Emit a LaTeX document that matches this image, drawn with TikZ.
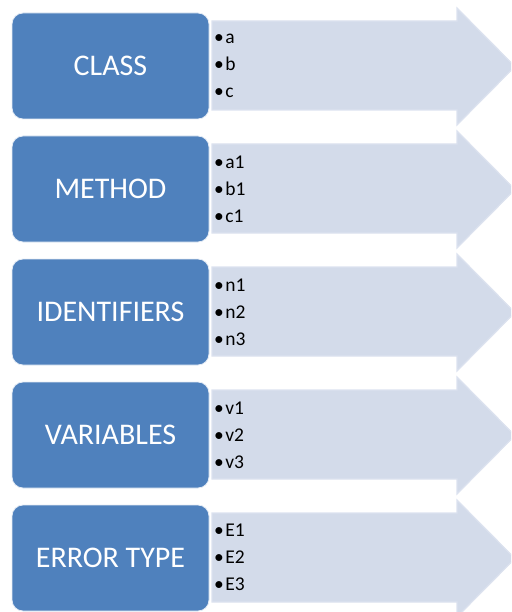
\documentclass[tikz,border=0pt]{standalone}
\usepackage{fontspec}
\setmainfont{Carlito}
\definecolor{boxblue}{HTML}{4F81BD}
\definecolor{arrowfill}{HTML}{D3DBEA}
\definecolor{arrowedge}{HTML}{DCE2EF}
\tikzset{
  catbox/.style={fill=boxblue, draw=white!85!boxblue, line width=0.8pt, rounded corners=11pt,
    minimum width=197pt, minimum height=106pt, inner sep=0pt, text=white,
    font=\fontsize{30}{35}\selectfont},
  itemlist/.style={anchor=west, align=left, inner sep=0pt, text=black,
    font=\fontsize{19.5}{27}\selectfont},
  bigarrow/.style={fill=arrowfill, draw=arrowedge, line width=1.2pt, line join=miter}
}
\newcommand{\itm}[1]{\textbullet\hspace{1.5pt}#1}
\begin{document}
\begin{tikzpicture}[x=1pt,y=-1pt]
\useasboundingbox (0,0) rectangle (511,612);
\begin{scope}
\clip (0,0) rectangle (511,612);
\foreach \i in {0,...,4}{
  \pgfmathsetmacro{\dy}{123*\i}
  \draw[bigarrow] (212,21+\dy) -- (457,21+\dy) -- (457,8+\dy) -- (515,66.5+\dy)
     -- (457,125+\dy) -- (457,110+\dy) -- (212,110+\dy) -- cycle;
}
\end{scope}
\node[catbox] (class) at (110.5,66) {CLASS};
\node[catbox] (method) at (110.5,189) {METHOD};
\node[catbox] (ident) at (110.5,312) {IDENTIFIERS};
\node[catbox] (vars) at (110.5,435) {VARIABLES};
\node[catbox] (err) at (110.5,558) {ERROR TYPE};
\node[itemlist] (l1) at (214,66) {\itm{a}\\\itm{b}\\\itm{c}};
\node[itemlist] (l2) at (214,189) {\itm{a1}\\\itm{b1}\\\itm{c1}};
\node[itemlist] (l3) at (214,312) {\itm{n1}\\\itm{n2}\\\itm{n3}};
\node[itemlist] (l4) at (214,435) {\itm{v1}\\\itm{v2}\\\itm{v3}};
\node[itemlist] (l5) at (214,557) {\itm{E1}\\\itm{E2}\\\itm{E3}};
\end{tikzpicture}
\end{document}
